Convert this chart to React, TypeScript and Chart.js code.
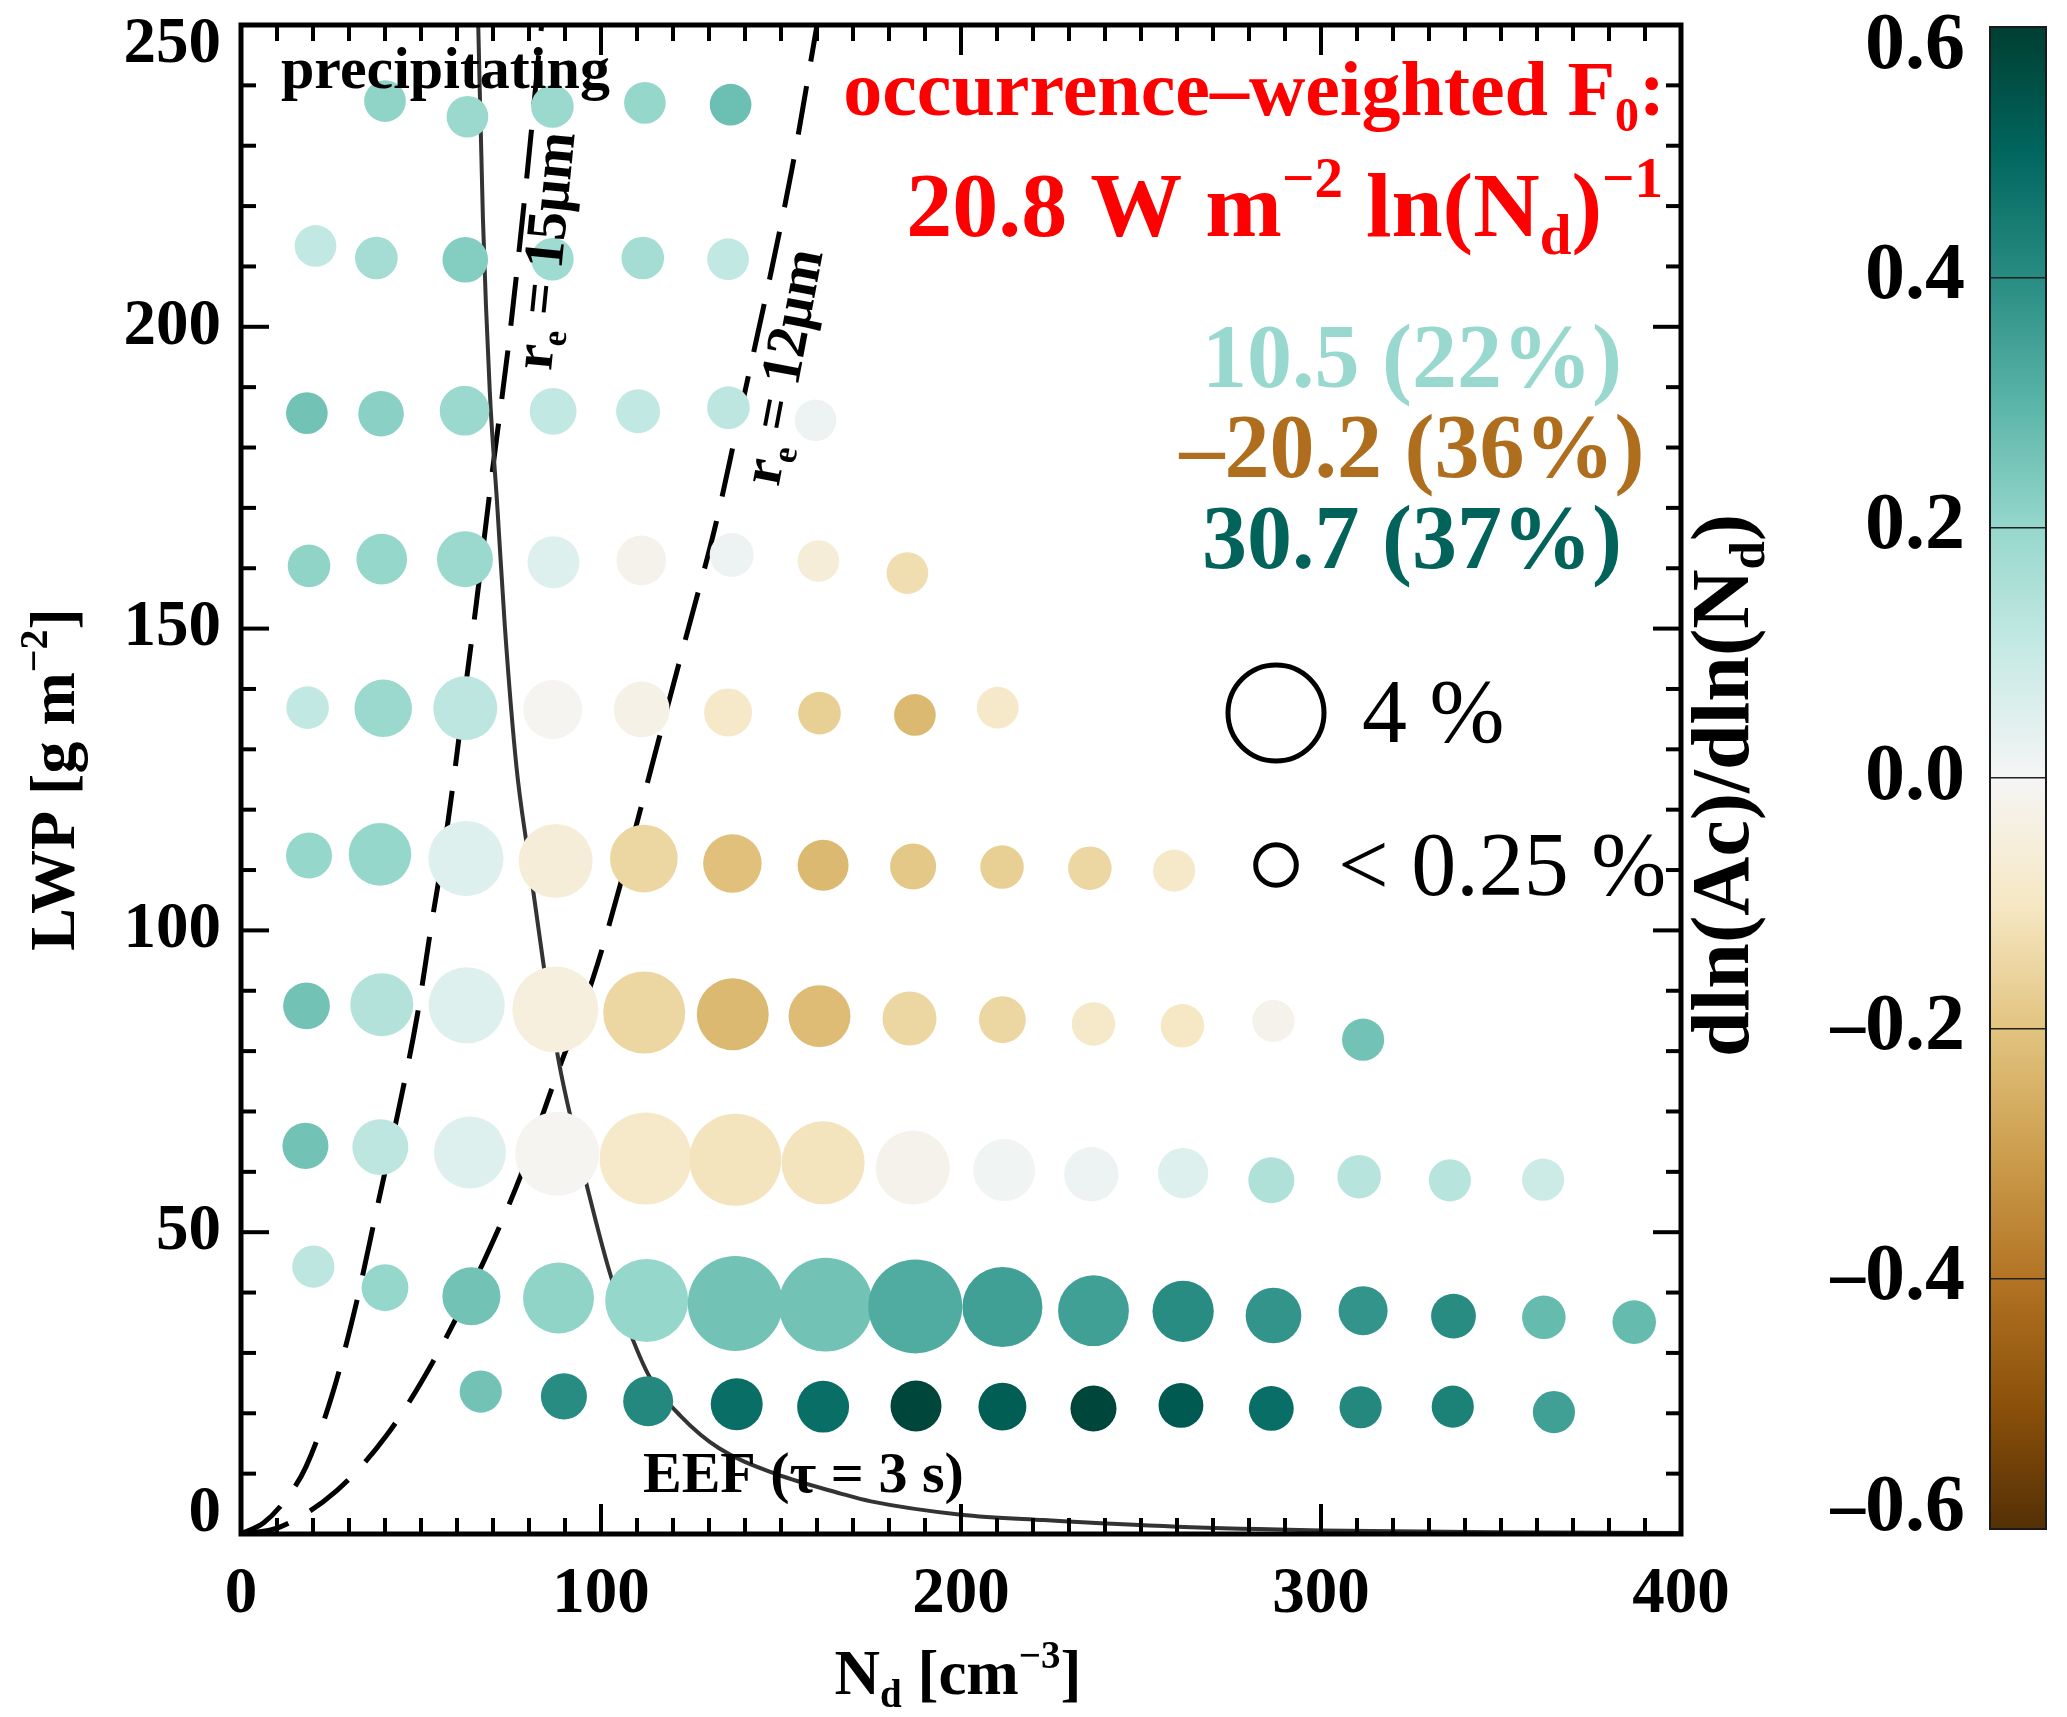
import React, { useEffect, useRef } from 'react';
import { Chart, registerables } from 'chart.js';

Chart.register(...registerables);

// ---------------- data ----------------
// Bin-mean droplet number concentration Nd [cm^-3], rows from top (high LWP) to bottom
const ndValues = [
  40.0, 62.9, 86.5, 112.2, 136.0,
  20.7, 37.6, 62.3, 86.5, 111.6, 135.3,
  18.3, 38.9, 62.1, 86.7, 110.3, 135.4, 159.6,
  18.9, 39.1, 62.2, 86.8, 111.2, 136.3, 160.4, 185.1,
  18.5, 39.5, 62.3, 86.6, 111.3, 135.3, 160.7, 187.2, 210.2,
  18.9, 38.6, 62.5, 87.4, 111.9, 136.5, 161.7, 186.7, 211.4, 235.8, 259.2,
  18.2, 39.1, 62.7, 87.3, 112.0, 136.6, 160.7, 185.7, 211.5, 236.8, 261.5, 286.8, 311.7,
  17.9, 38.7, 63.6, 87.8, 112.4, 137.3, 161.7, 186.6, 212.0, 236.2, 261.7, 286.2, 310.6, 335.8, 361.7,
  20.1, 40.0, 64.0, 88.2, 112.7, 137.3, 162.4, 187.3, 211.5, 236.8, 261.7, 286.8, 311.7, 336.8, 361.9, 387.0,
  66.6, 89.7, 113.1, 137.7, 161.7, 187.5, 211.5, 236.8, 261.1, 286.2, 311.0, 336.6, 364.7,
];
// Bin-mean liquid water path [g m^-2]
const lwpValues = [
  237.4, 234.8, 236.5, 237.1, 236.8,
  213.4, 211.4, 211.1, 211.2, 211.4, 211.2,
  185.7, 185.6, 186.1, 186.0, 186.0, 186.6, 184.5,
  160.4, 161.5, 161.5, 161.0, 161.3, 162.2, 161.2, 159.2,
  136.9, 136.8, 136.8, 136.6, 136.6, 136.1, 136.0, 135.7, 136.9,
  112.4, 112.6, 111.9, 111.5, 111.9, 111.1, 110.8, 110.6, 110.5, 110.3, 109.9,
  87.5, 87.7, 87.6, 86.9, 86.4, 86.1, 85.8, 85.4, 85.2, 84.5, 84.2, 85.0, 81.9,
  64.3, 64.1, 63.2, 63.0, 62.2, 62.0, 61.5, 60.7, 60.3, 59.6, 59.8, 58.6, 59.2, 58.6, 58.7,
  44.3, 40.8, 39.4, 39.1, 38.7, 38.2, 38.0, 37.7, 37.6, 37.0, 36.9, 36.2, 37.0, 36.1, 35.9, 35.1,
  23.6, 22.8, 22.0, 21.5, 21.1, 21.2, 21.1, 20.8, 21.3, 20.8, 21.0, 21.1, 20.2,
];
// Occurrence frequency of each bin [%]
const occurrencePct = [
  0.29, 0.29, 0.31, 0.29, 0.29,
  0.29, 0.31, 0.38, 0.31, 0.31, 0.29,
  0.29, 0.38, 0.49, 0.41, 0.34, 0.31, 0.29,
  0.31, 0.52, 0.70, 0.56, 0.49, 0.34, 0.29, 0.29,
  0.31, 0.76, 1.05, 0.82, 0.70, 0.44, 0.31, 0.29, 0.29,
  0.39, 0.98, 1.70, 1.62, 1.24, 0.80, 0.53, 0.39, 0.33, 0.33, 0.30,
  0.41, 1.00, 1.76, 2.54, 2.21, 1.49, 0.95, 0.63, 0.41, 0.33, 0.33, 0.30, 0.30,
  0.39, 0.70, 1.49, 2.37, 3.11, 3.11, 2.29, 1.62, 0.95, 0.64, 0.51, 0.39, 0.33, 0.30, 0.30,
  0.30, 0.41, 0.78, 1.43, 2.29, 3.43, 3.32, 3.32, 2.05, 1.42, 0.92, 0.69, 0.47, 0.36, 0.33, 0.33,
  0.30, 0.39, 0.50, 0.56, 0.56, 0.53, 0.44, 0.39, 0.36, 0.36, 0.30, 0.30, 0.30,
];
// dln(Ac)/dln(Nd) of each bin
const slopeValues = [
  0.21, 0.19, 0.19, 0.20, 0.27,
  0.11, 0.17, 0.23, 0.18, 0.17, 0.11,
  0.26, 0.22, 0.19, 0.11, 0.11, 0.12, 0.02,
  0.21, 0.20, 0.19, 0.05, -0.02, 0.02, -0.06, -0.13,
  0.11, 0.19, 0.12, -0.01, -0.03, -0.09, -0.17, -0.23, -0.09,
  0.20, 0.20, 0.05, -0.06, -0.15, -0.21, -0.23, -0.19, -0.17, -0.15, -0.09,
  0.26, 0.14, 0.05, -0.05, -0.15, -0.23, -0.22, -0.15, -0.15, -0.09, -0.10, -0.02, 0.26,
  0.26, 0.12, 0.05, -0.01, -0.09, -0.11, -0.11, -0.02, 0.01, 0.02, 0.05, 0.15, 0.13, 0.13, 0.09,
  0.12, 0.20, 0.26, 0.21, 0.20, 0.26, 0.26, 0.32, 0.35, 0.35, 0.40, 0.38, 0.38, 0.40, 0.28, 0.28,
  0.26, 0.40, 0.41, 0.48, 0.48, 0.58, 0.52, 0.58, 0.53, 0.48, 0.41, 0.43, 0.35,
];

// EEF (tau = 3 s) curve
const eefNd = [65.9, 67.2, 69.1, 71.2, 73.3, 76.5, 79.7, 84.0, 88.2, 92.5, 96.7, 102.0, 107.3, 113.7, 122.2, 132.8, 148.8, 166.6, 175.0, 200.0, 223.0, 260.0, 300.0, 350.0, 400.0];
const eefLwp = [250, 218, 189.4, 170.2, 150.3, 127.2, 112.8, 94.5, 78.5, 66.6, 56.2, 44.2, 34.6, 25.8, 19.5, 14.2, 9.9, 6.7, 5.4, 3.2, 2.3, 1.2, 0.6, 0.3, 0.15];
// r_e = 15 um curve
const re15Nd = [0, 6.4, 12.8, 18.1, 25.5, 31.9, 38.3, 43.6, 48.9, 53.1, 57.4, 61.6, 65.4, 69.6, 74.4, 79.2, 83.5];
const re15Lwp = [0, 1.9, 6.0, 11.2, 23.4, 37.9, 55.4, 69.8, 85.7, 101.7, 117.6, 136.8, 154.3, 175.0, 197.4, 223.7, 250];
// r_e = 12 um curve
const re12Nd = [0, 10.6, 26.6, 40.4, 53.1, 65.9, 77.6, 88.2, 97.8, 106.3, 114.8, 123.3, 131.8, 137.1, 153.0, 160.0];
const re12Lwp = [0, 1.1, 7.2, 16.3, 28.3, 43.2, 59.2, 76.9, 92.1, 109.6, 128.8, 147.9, 167.1, 181.4, 226.0, 250];

// axis ranges / ticks
const xRange = [0, 400];
const yRange = [0, 250];
const colorRange = [-0.6, 0.6];
const xMajorStep = 100;
const yMajorStep = 50;
const colorStep = 0.2;

// regime contributions
const regimeLabels = ['10.5 (22%)', '\u201320.2 (36%)', '30.7 (37%)'];
const totalLabel = '20.8';
const legendSizes = ['4', '0.25'];

// ---------------- styles ----------------
const FONT = '"Liberation Serif", "Times New Roman", serif';
const CMAP: [number, number[]][] = [
  [-0.6, [84, 48, 5]], [-0.5, [140, 81, 10]], [-0.4, [178, 116, 36]], [-0.3, [204, 158, 78]],
  [-0.2, [226, 196, 128]], [-0.1, [246, 232, 196]], [0.0, [245, 245, 245]], [0.1, [199, 234, 229]],
  [0.2, [150, 215, 204]], [0.3, [90, 180, 168]], [0.4, [40, 140, 130]], [0.5, [1, 102, 94]], [0.6, [0, 62, 50]],
];
const regimeColors = ['#98d8ce', '#ae6e1e', '#02635a'];

function colorFor(v: number): string {
  const vv = Math.max(CMAP[0][0], Math.min(CMAP[CMAP.length - 1][0], v));
  for (let i = 0; i < CMAP.length - 1; i++) {
    const [a, ca] = CMAP[i];
    const [b, cb] = CMAP[i + 1];
    if (vv >= a && vv <= b) {
      const t = (vv - a) / (b - a);
      const c = ca.map((x, k) => Math.round(x + (cb[k] - x) * t));
      return `rgb(${c[0]},${c[1]},${c[2]})`;
    }
  }
  return '#000';
}

// bubble radius (px) from occurrence: cube-root scaling, 4 % -> 50 px
function radiusFor(occ: number): number {
  return Math.max(20, 50 * Math.cbrt(occ / 4));
}

function noPad(s: any) {
  s.paddingTop = 0;
  s.paddingBottom = 0;
  s.paddingLeft = 0;
  s.paddingRight = 0;
}

type Seg = [string, string?];
function drawRich(ctx: CanvasRenderingContext2D, segs: Seg[], x: number, y: number, o: any) {
  const { size, bold = true, color = '#000', align = 'left', rot = 0, vshift = 0 } = o;
  ctx.save();
  ctx.translate(x, y);
  if (rot) ctx.rotate(rot);
  ctx.fillStyle = color;
  ctx.textBaseline = 'alphabetic';
  ctx.textAlign = 'left';
  const w = bold ? 'bold ' : '';
  const fontFor = (k?: string) => `${w}${k ? Math.round(size * 0.62) : size}px ${FONT}`;
  let total = 0;
  const widths = segs.map(([t, k]) => {
    ctx.font = fontFor(k);
    const m = ctx.measureText(t).width;
    total += m;
    return m;
  });
  let cx = align === 'left' ? 0 : align === 'right' ? -total : -total / 2;
  segs.forEach(([t, k], i) => {
    ctx.font = fontFor(k);
    const dy = k === 'b' ? size * 0.2 : k === 'p' ? -size * 0.42 : 0;
    ctx.fillText(t, cx, vshift + dy);
    cx += widths[i];
  });
  ctx.restore();
}

const frameTicks = {
  id: 'frameTicks',
  afterDraw(chart: any) {
    const { ctx, chartArea: a, scales } = chart;
    const xs = scales.x;
    const ys = scales.y;
    ctx.save();
    ctx.strokeStyle = '#000';
    ctx.lineCap = 'butt';
    ctx.lineWidth = 4;
    const seg = (x1: number, y1: number, x2: number, y2: number) => {
      ctx.beginPath();
      ctx.moveTo(x1, y1);
      ctx.lineTo(x2, y2);
      ctx.stroke();
    };
    for (let v = xRange[0]; v <= xRange[1]; v += xMajorStep / 10) {
      const px = xs.getPixelForValue(v);
      const len = v % xMajorStep === 0 ? 30 : 16;
      seg(px, a.bottom, px, a.bottom - len);
      seg(px, a.top, px, a.top + len);
    }
    for (let v = yRange[0]; v <= yRange[1]; v += yMajorStep / 5) {
      const py = ys.getPixelForValue(v);
      const len = v % yMajorStep === 0 ? 28 : 15;
      seg(a.left, py, a.left + len, py);
      seg(a.right, py, a.right - len, py);
    }
    ctx.lineWidth = 5;
    ctx.strokeRect(a.left, a.top, a.right - a.left, a.bottom - a.top);
    ctx.restore();
  },
};

const annotations = {
  id: 'annotations',
  afterDraw(chart: any) {
    const { ctx, chartArea: a } = chart;
    const cx = (a.left + a.right) / 2;
    const cy = (a.top + a.bottom) / 2;
    // axis titles
    drawRich(ctx, [['LWP [g m'], ['\u22122', 'p'], [']']], 74, cy, { size: 64, align: 'center', rot: -Math.PI / 2 });
    drawRich(ctx, [['N'], ['d', 'b'], [' [cm'], ['\u22123', 'p'], [']']], cx - 3, 1694, { size: 63, align: 'center' });
    drawRich(ctx, [['dln(Ac)/dln(N'], ['d', 'b'], [')']], 1748, cy + 6, { size: 82, align: 'center', rot: -Math.PI / 2 });
    // in-plot labels
    drawRich(ctx, [['precipitating']], 281, 88, { size: 60 });
    drawRich(ctx, [['EEF (\u03c4 = 3 s)']], 643, 1492, { size: 58 });
    drawRich(ctx, [['r'], ['e', 'b'], [' = 15\u03bcm']], 547, 251, { size: 57, align: 'center', rot: -84.3 * Math.PI / 180, vshift: 16 });
    drawRich(ctx, [['r'], ['e', 'b'], [' = 12\u03bcm']], 785, 367, { size: 57, align: 'center', rot: -79.3 * Math.PI / 180, vshift: 16 });
    // red summary
    drawRich(ctx, [['occurrence\u2013weighted F'], ['0', 'b'], [':']], 1665, 115, { size: 78, align: 'right', color: '#ff0000' });
    drawRich(ctx, [[totalLabel + ' W m'], ['\u22122', 'p'], [' ln(N'], ['d', 'b'], [')'], ['\u22121', 'p']], 1663, 236, { size: 92, align: 'right', color: '#ff0000' });
    const baselines = [387, 477, 568];
    regimeLabels.forEach((t, i) => drawRich(ctx, [[t]], 1412, baselines[i], { size: 90, align: 'center', color: regimeColors[i] }));
    // size legend
    ctx.save();
    ctx.strokeStyle = '#000';
    ctx.lineWidth = 5;
    ctx.beginPath();
    ctx.arc(1276, 713, radiusFor(Number(legendSizes[0])) - 2, 0, Math.PI * 2);
    ctx.stroke();
    ctx.beginPath();
    ctx.arc(1276, 865, 20.3, 0, Math.PI * 2);
    ctx.stroke();
    ctx.restore();
    drawRich(ctx, [[legendSizes[0] + ' %']], 1362, 742, { size: 90, bold: false });
    drawRich(ctx, [['< ' + legendSizes[1] + ' %']], 1338, 895, { size: 90, bold: false });
  },
};

const cbFrame = {
  id: 'cbFrame',
  afterDraw(chart: any) {
    const { ctx, chartArea: a } = chart;
    ctx.save();
    ctx.strokeStyle = '#1a1a1a';
    ctx.lineWidth = 2;
    ctx.strokeRect(a.left, a.top, a.right - a.left, a.bottom - a.top);
    ctx.restore();
  },
};

function makeMainConfig(): any {
  const tickFont = { family: FONT, weight: 'bold', size: 65 };
  return {
    type: 'bubble',
    data: {
      datasets: [
        {
          type: 'bubble',
          data: ndValues.map((x, i) => ({ x, y: lwpValues[i], r: radiusFor(occurrencePct[i]) })),
          backgroundColor: slopeValues.map(colorFor),
          borderWidth: 0,
          order: 1,
        },
        {
          type: 'line',
          data: eefNd.map((x, i) => ({ x, y: eefLwp[i] })),
          borderColor: '#333333',
          borderWidth: 4,
          pointRadius: 0,
          cubicInterpolationMode: 'monotone',
          fill: false,
          order: 2,
        },
        {
          type: 'line',
          data: re15Nd.map((x, i) => ({ x, y: re15Lwp[i] })),
          borderColor: '#000',
          borderWidth: 5,
          borderDash: [49, 25],
          pointRadius: 0,
          cubicInterpolationMode: 'monotone',
          fill: false,
          order: 2,
        },
        {
          type: 'line',
          data: re12Nd.map((x, i) => ({ x, y: re12Lwp[i] })),
          borderColor: '#000',
          borderWidth: 5,
          borderDash: [49, 25],
          pointRadius: 0,
          cubicInterpolationMode: 'monotone',
          fill: false,
          order: 2,
        },
      ],
    },
    options: {
      responsive: false,
      animation: false,
      events: [],
      layout: { autoPadding: false, padding: { top: 25, left: 0, right: 0, bottom: 0 } },
      plugins: { legend: { display: false }, tooltip: { enabled: false } },
      scales: {
        x: {
          type: 'linear',
          min: xRange[0],
          max: xRange[1],
          ticks: { stepSize: xMajorStep, font: tickFont, color: '#000', padding: 22, maxRotation: 0, autoSkip: false },
          grid: { display: false, drawTicks: false },
          border: { display: false },
          afterFit: (s: any) => { s.height = 183; noPad(s); },
        },
        y: {
          type: 'linear',
          position: 'left',
          min: yRange[0],
          max: yRange[1],
          ticks: {
            stepSize: yMajorStep,
            font: { ...tickFont, lineHeight: 0.62 },
            color: '#000',
            padding: 20,
            autoSkip: false,
            callback: (v: number) => (v === yRange[1] ? ['', String(v)] : v === yRange[0] ? [String(v), ''] : String(v)),
          },
          grid: { display: false, drawTicks: false },
          border: { display: false },
          afterFit: (s: any) => { s.width = 241; noPad(s); },
        },
        y2: {
          type: 'linear',
          position: 'right',
          min: yRange[0],
          max: yRange[1],
          ticks: { display: false },
          grid: { display: false, drawTicks: false },
          border: { display: false },
          afterFit: (s: any) => { s.width = 149; noPad(s); },
        },
      },
    },
    plugins: [frameTicks, annotations],
  };
}

function makeColorbarConfig(): any {
  return {
    type: 'bar',
    data: {
      labels: [''],
      datasets: [
        {
          data: [[colorRange[0], colorRange[1]]],
          backgroundColor: (c: any) => {
            const chart = c.chart;
            if (!chart.chartArea) return '#ccc';
            const ys = chart.scales.y;
            const g = chart.ctx.createLinearGradient(0, ys.getPixelForValue(colorRange[0]), 0, ys.getPixelForValue(colorRange[1]));
            CMAP.forEach(([v, col]) => g.addColorStop((v - colorRange[0]) / (colorRange[1] - colorRange[0]), `rgb(${col[0]},${col[1]},${col[2]})`));
            return g;
          },
          borderWidth: 0,
          barPercentage: 1,
          categoryPercentage: 1,
        },
      ],
    },
    options: {
      responsive: false,
      animation: false,
      events: [],
      layout: { autoPadding: false, padding: { top: 27, right: 21, bottom: 188, left: 0 } },
      plugins: { legend: { display: false }, tooltip: { enabled: false } },
      scales: {
        x: { display: false, afterFit: (s: any) => { noPad(s); } },
        y: {
          type: 'linear',
          position: 'left',
          min: colorRange[0],
          max: colorRange[1],
          ticks: {
            stepSize: colorStep,
            font: { family: FONT, weight: 'bold', size: 80, lineHeight: 0.5 },
            color: '#000',
            padding: 25,
            autoSkip: false,
            callback: (value: number) => {
              const v = Math.round(value * 10) / 10;
              const s = (v < 0 ? '\u2013' : '') + Math.abs(v).toFixed(1);
              if (v === colorRange[1]) return ['', s];
              if (v === colorRange[0]) return [s, ''];
              return s;
            },
          },
          grid: { display: true, drawTicks: false, color: '#222', lineWidth: 1.5, z: 1 },
          border: { display: false },
          afterFit: (s: any) => { s.width = 160; noPad(s); },
        },
      },
    },
    plugins: [cbFrame],
  };
}

export default function App() {
  const mainRef = useRef<HTMLCanvasElement>(null);
  const cbRef = useRef<HTMLCanvasElement>(null);
  useEffect(() => {
    const c1 = new Chart(mainRef.current as HTMLCanvasElement, makeMainConfig());
    const c2 = new Chart(cbRef.current as HTMLCanvasElement, makeColorbarConfig());
    return () => {
      c1.destroy();
      c2.destroy();
    };
  }, []);
  return (
    <div style={{ position: 'absolute', left: 0, top: 0, width: 2067, height: 1717, background: '#fff' }}>
      <canvas ref={mainRef} width={1830} height={1717} style={{ position: 'absolute', left: 0, top: 0 }} />
      <canvas ref={cbRef} width={237} height={1717} style={{ position: 'absolute', left: 1830, top: 0 }} />
    </div>
  );
}
